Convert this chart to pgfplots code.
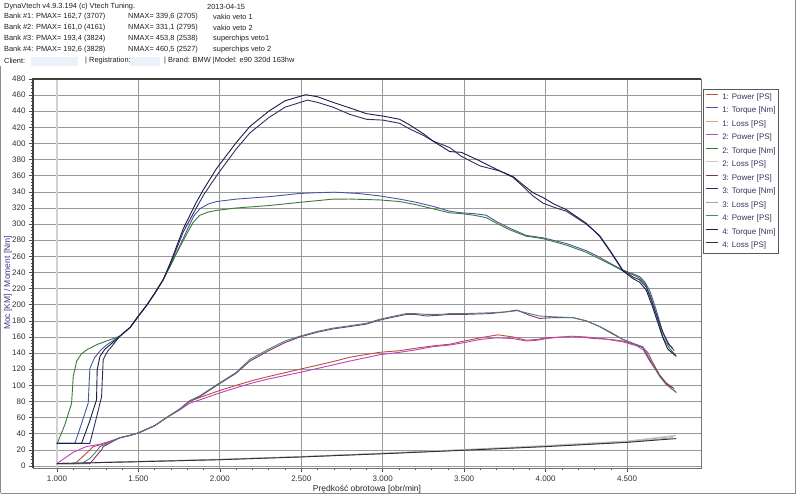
\documentclass[border=0pt]{standalone}
\usepackage{pgfplots}
\pgfplotsset{compat=1.18}
\usepackage{fontspec}
\setmainfont{Liberation Sans}
\definecolor{cPa}{HTML}{B4503C}
\definecolor{cTa}{HTML}{4858A0}
\definecolor{cLa}{HTML}{D0B070}
\definecolor{cPb}{HTML}{C040C0}
\definecolor{cTb}{HTML}{3A7A3A}
\definecolor{cLb}{HTML}{C0C4CC}
\definecolor{cPc}{HTML}{8A3068}
\definecolor{cTc}{HTML}{303060}
\definecolor{cLc}{HTML}{9AAA9A}
\definecolor{cPd}{HTML}{4A8080}
\definecolor{cTd}{HTML}{1C1C48}
\definecolor{cLd}{HTML}{402848}
\definecolor{hdr}{HTML}{202020}
\definecolor{navy}{HTML}{3C3C8C}
\definecolor{legtxt}{HTML}{34345E}
\definecolor{fieldbg}{HTML}{EAF2FB}
\begin{document}
\begin{tikzpicture}[x=1pt,y=1pt]
\fill[white] (0,0) rectangle (800,494);
\path[use as bounding box] (0,0) rectangle (800,494);
% header
\fill[fieldbg] (31,428) rectangle (78,437);
\fill[fieldbg] (130,428) rectangle (160,437);
\begin{scope}[every node/.style={anchor=west, inner sep=0pt, font=\fontsize{7.4}{8.5}\selectfont, text=hdr}]
\node at (4,487.5) {DynaVtech v4.9.3.194 (c) Vtech Tuning.};
\node at (207,487.5) {2013-04-15};
\node at (4,477) {Bank \#1: PMAX= 162,7 (3707)};
\node at (128,477) {NMAX= 339,6 (2705)};
\node at (213,477) {vakio veto 1};
\node at (4,466) {Bank \#2: PMAX= 161,0 (4161)};
\node at (128,466) {NMAX= 331,1 (2795)};
\node at (213,466) {vakio veto 2};
\node at (4,455) {Bank \#3: PMAX= 193,4 (3824)};
\node at (128,455) {NMAX= 453,8 (2538)};
\node at (213,455) {superchips veto1};
\node at (4,444) {Bank \#4: PMAX= 192,6 (3828)};
\node at (128,444) {NMAX= 460,5 (2527)};
\node at (213,444) {superchips veto 2};
\node at (4,433) {Client:};
\node at (85,433) {| Registration:};
\node at (164,433) {| Brand: BMW |Model: e90 320d 163hw};
\end{scope}
\draw[black!45] (0.5,0.5) -- (0.5,428);
\draw[black!45] (0.5,0.5) -- (795.5,0.5) -- (795.5,494);
\begin{axis}[
  at={(33pt,26pt)}, anchor=south west,
  width=668pt, height=389pt, scale only axis,
  xmin=853, xmax=4954, ymin=-2.5, ymax=480,
  clip=false,
  xtick={1000,1500,2000,2500,3000,3500,4000,4500},
  xticklabels={1.000,1.500,2.000,2.500,3.000,3.500,4.000,4.500},
  ytick={0,20,...,480},
  minor x tick num=4, minor y tick num=4,
  tick pos=left, tick align=outside,
  major tick length=4pt, minor tick length=2pt,
  tick style={black!70, line width=0.5pt},
  grid=major,
  major grid style={black!40, line width=0.7pt},
  axis line style={black!55, line width=0.6pt},
  /pgf/number format/assume math mode=true,
  ticklabel style={font=\fontsize{8}{9}\selectfont, text=black!80},
  xlabel={Prędkość obrotowa [obr/min]},
  xlabel style={at={(rel axis cs:0.5,0)}, anchor=center, yshift=-21pt, font=\fontsize{8.5}{10}\selectfont, text=black!85},
  ylabel={Moc [KM] / Moment [Nm]},
  ylabel style={at={(rel axis cs:0,0.4756)}, anchor=center, yshift=25pt, font=\fontsize{8.5}{10}\selectfont, text=navy},
  legend cell align=left,
  legend style={at={(rel axis cs:1.0025,0.9735)}, anchor=north west, draw=black!65, fill=white,
    font=\fontsize{8}{9}\selectfont, text=legtxt, inner xsep=2.5pt, inner ysep=3.5pt,
    row sep=5.5pt, nodes={inner sep=0pt, text height=6pt, text depth=2pt, anchor=west},
    /tikz/every odd column/.append style={column sep=4pt}},
  legend image code/.code={\draw[#1, line width=0.9pt] (0pt,2.8pt) -- (12pt,2.8pt);},
  every axis plot/.append style={line width=0.9pt, no markers},
]
\draw[black!18, line width=2pt] (axis cs:1000,-2.5) -- (axis cs:1000,480);
% Bank 1
\addplot[cPa] coordinates {(1000,3)(1110,3)(1150,10)(1192,18)(1223,24)(1300,28)(1386,35)(1450,38)(1500,41)(1600,50)(1673,60)(1750,70)(1816,80)(1877,85)(1990,93)(2100,100)(2200,106)(2300,111)(2491,120)(2600,125)(2705,130)(2800,135)(2982,141)(3104,143)(3200,146)(3309,149)(3411,151)(3500,155)(3600,159)(3707,162.7)(3800,160)(3881,156)(3950,157)(4004,159)(4100,160)(4209,160)(4300,158)(4400,157)(4474,155)(4560,150)(4597,147)(4630,140)(4659,128)(4700,113)(4741,103)(4790,96)};
\addlegendentry{1: Power [PS]}
\addplot[cTa] coordinates {(1000,28)(1110,28)(1150,52)(1192,78)(1202,121)(1230,134)(1270,144)(1305,150)(1386,161)(1450,172)(1500,186)(1550,199)(1600,214)(1652,231)(1700,250)(1750,271)(1800,293)(1840,310)(1877,319)(1930,325)(1980,328)(2100,331)(2300,334)(2491,338)(2600,339)(2705,339.6)(2850,338)(2982,335)(3104,331)(3207,327)(3309,322)(3411,316)(3483,314)(3560,313)(3636,311)(3700,303)(3779,295)(3881,286)(3984,283)(4127,276)(4250,267)(4331,259)(4400,251)(4474,243)(4540,238)(4577,235)(4610,228)(4640,217)(4680,193)(4720,165)(4750,152)(4790,143)};
\addlegendentry{1: Torque [Nm]}
\addplot[cLa] coordinates {(1000,3)(1500,5.5)(2000,8)(2500,11.5)(3000,15.5)(3500,20)(4000,24.8)(4500,30.2)(4790,37)};
\addlegendentry{1: Loss [PS]}
% Bank 2
\addplot[cPb] coordinates {(1000,3)(1050,10)(1100,17)(1180,24)(1264,27)(1330,31)(1386,35)(1450,38)(1500,41)(1600,50)(1673,60)(1750,69)(1816,78)(1877,82)(1990,90)(2100,97)(2200,103)(2300,108)(2491,116)(2600,121)(2795,130)(2982,138)(3104,141)(3200,144)(3309,148)(3411,150)(3500,153)(3600,157)(3700,159)(3800,158)(3881,155)(3950,156)(4004,158)(4100,160)(4161,161)(4250,160)(4350,158)(4474,154)(4560,149)(4600,144)(4640,130)(4680,118)(4741,101)(4800,92)};
\addlegendentry{2: Power [PS]}
\addplot[cTb] coordinates {(1000,27)(1050,52)(1090,78)(1100,111)(1121,130)(1150,139)(1182,144)(1250,151)(1305,155)(1386,161)(1450,172)(1500,186)(1550,199)(1600,214)(1652,231)(1700,250)(1750,270)(1800,289)(1836,302)(1877,311)(1930,315)(1980,317)(2100,320)(2300,323)(2491,327)(2695,331)(2795,331.1)(2982,330)(3104,328)(3207,324)(3309,319)(3411,314)(3483,313)(3560,311)(3636,308)(3700,301)(3779,293)(3881,285)(3984,282)(4127,274)(4250,265)(4331,257)(4400,250)(4474,242)(4540,237)(4577,233)(4610,226)(4640,213)(4680,188)(4720,160)(4760,146)(4800,137)};
\addlegendentry{2: Torque [Nm]}
\addplot[cLb] coordinates {(1000,3)(1500,5.6)(2000,8.3)(2500,11.8)(3000,16)(3500,20.5)(4000,25.4)(4500,31)(4800,38)};
\addlegendentry{2: Loss [PS]}
% Bank 3
\addplot[cPc] coordinates {(1000,3)(1202,3)(1240,12)(1274,20)(1284,24)(1330,29)(1386,35)(1450,38)(1500,41)(1600,50)(1673,60)(1750,70)(1816,81)(1877,86)(1990,101)(2100,115)(2184,130)(2300,143)(2400,153)(2491,160)(2600,166)(2695,170)(2800,173)(2900,176)(2982,181)(3050,184)(3145,188)(3200,188)(3268,186)(3350,187)(3411,188)(3500,188)(3657,189)(3750,191)(3824,193.4)(3900,187)(3963,183)(4050,184)(4168,184)(4250,180)(4331,173)(4400,165)(4474,157)(4550,151)(4597,147)(4638,132)(4700,112)(4741,102)(4781,97)};
\addlegendentry{3: Power [PS]}
\addplot[cTc] coordinates {(1000,28)(1202,28)(1240,58)(1274,86)(1284,132)(1310,142)(1335,148)(1386,161)(1450,172)(1500,186)(1550,199)(1600,214)(1652,231)(1700,252)(1775,290)(1850,318)(1900,336)(1980,360)(2100,393)(2184,413)(2300,432)(2400,445)(2538,453.8)(2600,451)(2695,445)(2800,436)(2900,430)(3002,429)(3104,425)(3166,418)(3250,410)(3309,403)(3411,395)(3483,384)(3600,372)(3718,366)(3800,358)(3860,347)(3922,335)(3984,326)(4050,321)(4127,316)(4250,300)(4331,286)(4400,266)(4474,243)(4540,234)(4577,231)(4618,222)(4659,200)(4720,166)(4760,150)(4781,146)};
\addlegendentry{3: Torque [Nm]}
\addplot[cLc] coordinates {(1000,3)(1500,5.4)(2000,7.9)(2500,11.3)(3000,15.3)(3500,19.7)(4000,24.2)(4500,29.5)(4781,35)};
\addlegendentry{3: Loss [PS]}
% Bank 4
\addplot[cPd] coordinates {(1000,3)(1151,3)(1200,9)(1233,16)(1264,24)(1320,29)(1386,35)(1450,38)(1500,41)(1600,50)(1673,60)(1750,70)(1816,81)(1877,87)(1990,102)(2100,116)(2184,132)(2300,145)(2400,155)(2491,161)(2600,167)(2695,171)(2800,174)(2900,177)(2982,182)(3050,185)(3145,189)(3200,189)(3268,188)(3350,188)(3411,189)(3500,189)(3657,190)(3750,191)(3828,192.6)(3900,189)(3963,186)(4050,185)(4168,184)(4250,180)(4331,173)(4400,166)(4474,157)(4550,151)(4597,148)(4638,133)(4700,111)(4741,101)(4802,91)};
\addlegendentry{4: Power [PS]}
\addplot[cTd] coordinates {(1000,28)(1151,28)(1200,55)(1243,82)(1247,119)(1264,136)(1295,145)(1325,150)(1386,161)(1450,172)(1500,186)(1550,199)(1600,214)(1652,231)(1700,254)(1775,294)(1850,325)(1900,343)(1980,369)(2100,401)(2184,421)(2300,440)(2400,453)(2527,460.5)(2600,458)(2695,451)(2800,444)(2900,437)(3002,434)(3104,430)(3166,423)(3250,412)(3309,403)(3411,390)(3483,389)(3600,378)(3718,366)(3800,359)(3860,349)(3922,339)(3984,333)(4050,325)(4127,318)(4250,301)(4331,285)(4400,265)(4474,242)(4540,232)(4577,228)(4618,218)(4659,196)(4720,159)(4750,145)(4802,136)};
\addlegendentry{4: Torque [Nm]}
\addplot[cLd] coordinates {(1000,3)(1500,5.3)(2000,7.8)(2500,11.2)(3000,15.2)(3500,19.5)(4000,24)(4500,29.3)(4802,34)};
\addlegendentry{4: Loss [PS]}
\draw[black!75, line width=1.6pt] (rel axis cs:0,0) -- (rel axis cs:0,1) -- (rel axis cs:1,1);
\end{axis}
\end{tikzpicture}
\end{document}
